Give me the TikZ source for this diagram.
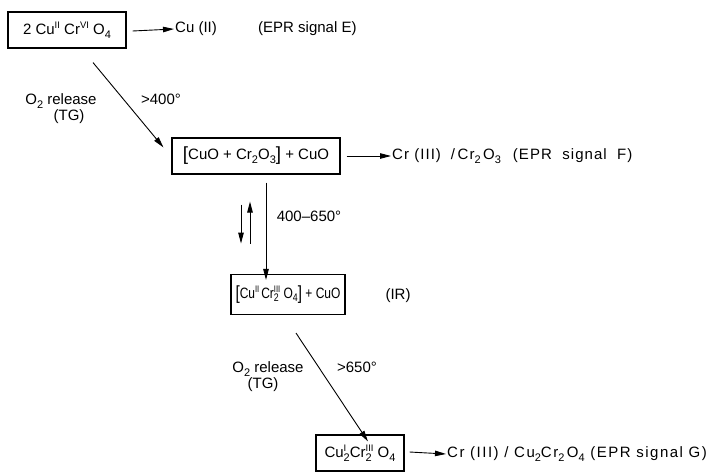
\documentclass[tikz,border=0pt]{standalone}
\usepackage{fontspec}
\usepackage{graphicx}
\setmainfont{Liberation Sans}
\newfontfamily\widefont[LetterSpace=7]{Liberation Sans}
\newfontfamily\widerfont[LetterSpace=10]{Liberation Sans}
\usetikzlibrary{arrows.meta}
\newcommand\chsub[1]{\raisebox{-3.5pt}{\fontsize{11}{11}\selectfont #1}}
\newcommand\chsup[1]{\raisebox{6pt}{\fontsize{9.5}{10}\selectfont #1}}
\newcommand\chss[2]{\begingroup\sbox0{\chsup{#1}}\sbox2{\chsub{#2}}\ifdim\wd0>\wd2 \rlap{\usebox2}\usebox0\else\rlap{\usebox0}\usebox2\fi\endgroup}
\newcommand\bigbr[1]{\raisebox{-1pt}{\fontsize{19}{19}\selectfont #1}}
\begin{document}
\begin{tikzpicture}[x=1pt,y=-1pt,
  every node/.style={font=\fontsize{15}{18}\selectfont, inner sep=0pt},
  chbox/.style={draw, line width=1.1pt, minimum width=#1, align=center},
  arr/.style={line width=0.9pt, -{Triangle[length=11pt,width=5.5pt]}},
  lbl/.style={anchor=center}]
\useasboundingbox (0,0) rectangle (719,474);
% boxes
\node[chbox=118pt, minimum height=36pt] (b1) at (67,30) {2 Cu\chsup{II}\ Cr\chsup{VI}\ O\chsub{4}};
\node[chbox=168pt, minimum height=36pt] (b2) at (256,156) {\bigbr{[}CuO + Cr\chsub{2}O\chsub{3}\bigbr{]} + CuO};
\node[chbox=114pt, minimum height=40pt] (b3) at (288,294.5) {\scalebox{0.8}[1]{\bigbr{[}Cu\chsup{II}\,Cr\chss{III}{2}\ O\chsub{4}\bigbr{]} + CuO}};
\node[chbox=88pt, minimum height=36pt] (b4) at (360,453) {Cu\chss{I}{2}Cr\chss{III}{2}\ O\chsub{4}};
% right-hand products
\node[anchor=west] (p1) at (175,29) {Cu (II)};
\node[anchor=west] (e1) at (258,29) {(EPR signal E)};
\node[anchor=west] (p2) at (392,156) {\widefont Cr (III)\hspace{10pt}/\,Cr\chsub{2}\,O\chsub{3}\hspace{12pt}(EPR\ \ signal\ \ F)};
\node[lbl] (ir) at (398,296) {(IR)};
\node[anchor=west] (p4) at (447,454) {\widerfont Cr (III) / Cu\chsub{2}Cr\chsub{2}\,O\chsub{4} (EPR signal G)};
% labels
\node[lbl] (o1) at (61,101) {O\chsub{2} release};
\node[lbl] (t1) at (69,117) {(TG)};
\node[lbl] (g1) at (161,99) {>400°};
\node[lbl] (g2) at (309,216) {400–650°};
\node[lbl] (o2) at (268,369) {O\chsub{2} release};
\node[lbl] (t2) at (263,385) {(TG)};
\node[lbl] (g3) at (357,367) {>650°};
% arrows to products
\draw[arr] ([xshift=6pt,yshift=-1pt]b1.east) -- ([xshift=-1pt]p1.west);
\draw[arr] ([xshift=6pt]b2.east) -- ([xshift=-1pt]p2.west);
\draw[arr] ([xshift=5pt,yshift=1pt]b4.east) -- ([xshift=-1pt]p4.west);
% reaction arrows
\draw[arr] ([xshift=26pt,yshift=-14pt]b1.south) -- ([xshift=-8pt,yshift=-10pt]b2.north west);
\draw[arr] ([xshift=10pt,yshift=-8pt]b2.south) -- ([xshift=-22pt,yshift=-6pt]b3.north);
\draw[arr] ([xshift=-15pt,yshift=-30pt]b2.south) -- ([xshift=-15pt,yshift=-69pt]b2.south);
\draw[arr] ([xshift=-6pt,yshift=-69pt]b2.south) -- ([xshift=-6pt,yshift=-27pt]b2.south);
\draw[arr] ([xshift=8pt,yshift=-18pt]b3.south) -- ([xshift=8pt,yshift=-7pt]b4.north);
\end{tikzpicture}
\end{document}
